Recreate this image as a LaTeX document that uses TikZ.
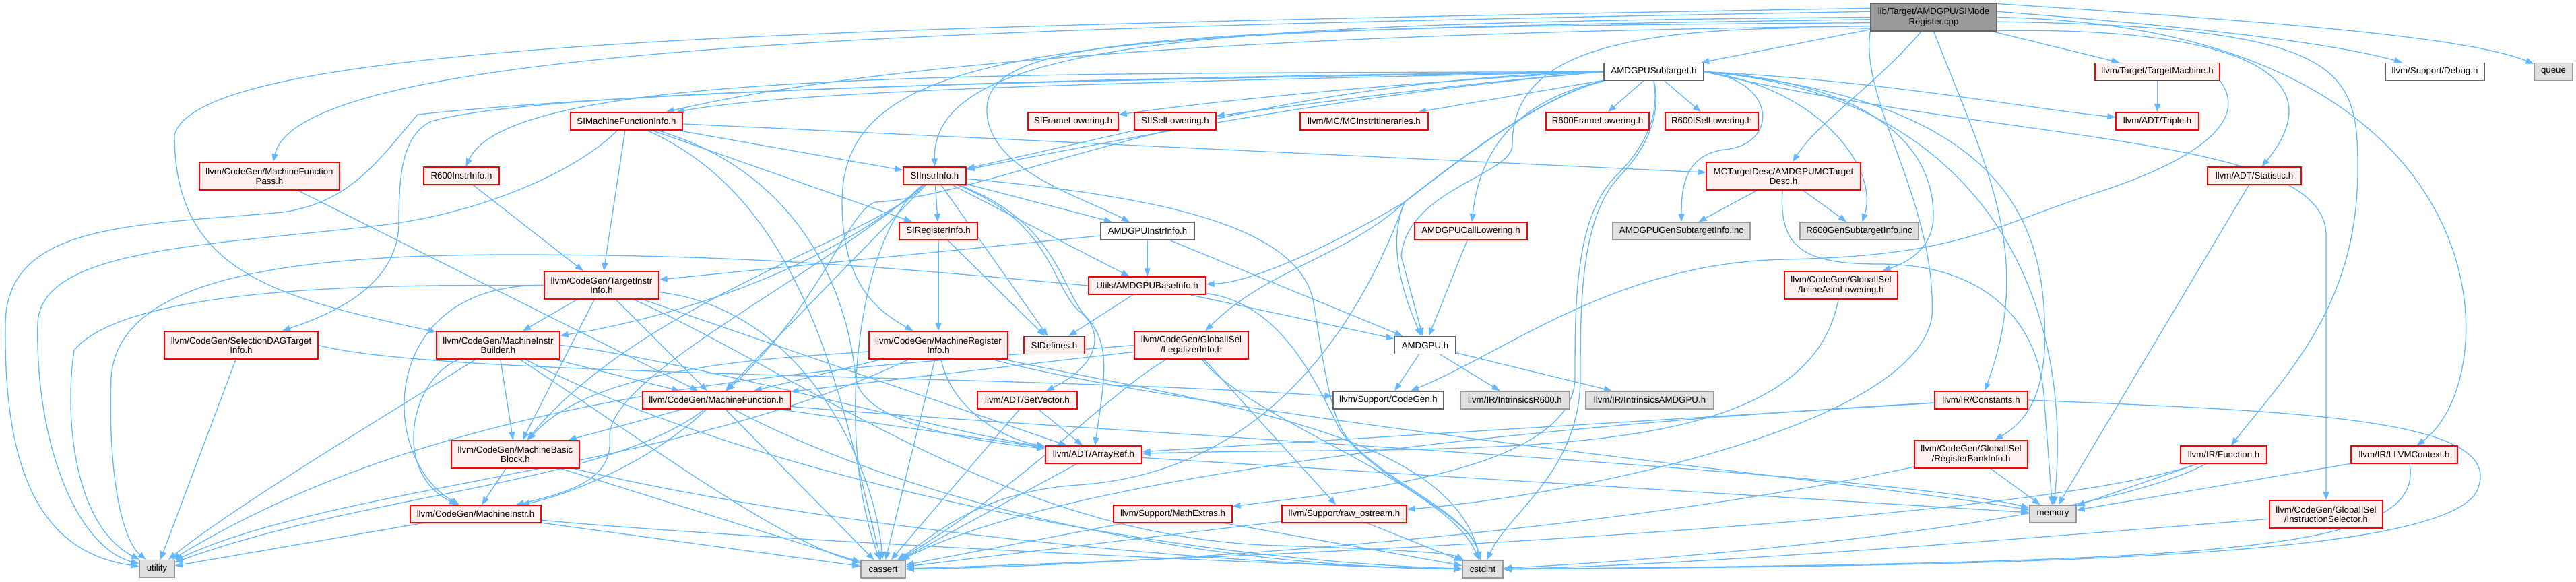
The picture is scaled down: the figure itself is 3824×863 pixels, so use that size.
\documentclass[tikz,border=0pt]{standalone}
\usepackage{tikz}
\usepackage{fontspec}
\setmainfont{Liberation Sans}
\usetikzlibrary{arrows.meta}
\pgfdeclarelayer{bg}
\pgfsetlayers{bg,main}
\definecolor{ec}{HTML}{63B8FF}
\definecolor{redfill}{HTML}{FFF0F0}
\definecolor{grayfill}{HTML}{E0E0E0}
\definecolor{graydraw}{HTML}{999999}
\definecolor{darkdraw}{HTML}{666666}
\newcommand\mynode[7]{\node[#1, minimum width=#5pt, minimum height=#6pt] (#2) at (#3,#4) {#7};}
\begin{document}
\begin{tikzpicture}[x=1pt,y=-1pt,
  every node/.style={font=\fontsize{13.3pt}{14.5pt}\selectfont, inner sep=0pt, align=center},
  rn/.style={draw=red, fill=redfill, line width=1.4pt},
  gn/.style={draw=graydraw, fill=grayfill, line width=1.4pt},
  wn/.style={draw=darkdraw, fill=white, line width=1.4pt},
  rootn/.style={draw=darkdraw, fill=graydraw, line width=1.4pt},
  conn/.style={draw=ec, line width=1.3pt, -{Triangle[length=12pt,width=9pt]}}]
\useasboundingbox (0,0) rectangle (3824,863);
\mynode{rootn}{root}{2870.5}{25.5}{187}{41}{lib/Target/AMDGPU/SIMode\\Register.cpp}
\mynode{wn}{sub}{2455}{106.5}{148}{26}{AMDGPUSubtarget.h}
\mynode{rn}{tm}{3202.5}{106.5}{185}{26}{llvm/Target/TargetMachine.h}
\mynode{wn}{dbg}{3614.5}{106.5}{147}{26}{llvm/Support/Debug.h}
\mynode{gn}{queue}{3790.5}{106.5}{57}{26}{queue}
\mynode{rn}{simfi}{930}{180}{166}{26}{SIMachineFunctionInfo.h}
\mynode{rn}{siframe}{1593}{180}{134}{26}{SIFrameLowering.h}
\mynode{rn}{siisel}{1744.5}{180}{121}{26}{SIISelLowering.h}
\mynode{rn}{mcii}{2025}{180}{190}{26}{llvm/MC/MCInstrItineraries.h}
\mynode{rn}{r600frame}{2371.5}{180}{153}{26}{R600FrameLowering.h}
\mynode{rn}{r600isel}{2541}{180}{138}{26}{R600ISelLowering.h}
\mynode{rn}{triple}{3202.5}{180}{123}{26}{llvm/ADT/Triple.h}
\mynode{rn}{mfp}{400}{261.5}{208}{41}{llvm/CodeGen/MachineFunction\\Pass.h}
\mynode{rn}{r600ii}{685}{261}{112}{26}{R600InstrInfo.h}
\mynode{rn}{siii}{1387.5}{261}{93}{26}{SIInstrInfo.h}
\mynode{rn}{mctd}{2647.5}{261.5}{229}{41}{MCTargetDesc/AMDGPUMCTarget\\Desc.h}
\mynode{rn}{stat}{3346.5}{261}{139}{26}{llvm/ADT/Statistic.h}
\mynode{rn}{siri}{1393}{343}{116}{26}{SIRegisterInfo.h}
\mynode{wn}{amdgpuii}{1703.5}{343}{139}{26}{AMDGPUInstrInfo.h}
\mynode{rn}{calllow}{2183.5}{343}{167}{26}{AMDGPUCallLowering.h}
\mynode{gn}{gensub}{2496}{343}{204}{26}{AMDGPUGenSubtargetInfo.inc}
\mynode{gn}{r600gensub}{2760}{343}{176}{26}{R600GenSubtargetInfo.inc}
\mynode{rn}{tii}{893}{423.5}{170}{41}{llvm/CodeGen/TargetInstr\\Info.h}
\mynode{rn}{baseinfo}{1703}{424}{174}{26}{Utils/AMDGPUBaseInfo.h}
\mynode{rn}{inlineasm}{2733}{423.5}{168}{41}{llvm/CodeGen/GlobalISel\\/InlineAsmLowering.h}
\mynode{rn}{sdag}{358}{512.5}{228}{41}{llvm/CodeGen/SelectionDAGTarget\\Info.h}
\mynode{rn}{mib}{739.5}{512.5}{183}{41}{llvm/CodeGen/MachineInstr\\Builder.h}
\mynode{rn}{mri}{1393}{512.5}{206}{41}{llvm/CodeGen/MachineRegister\\Info.h}
\mynode{rn}{sidef}{1565}{512.5}{90}{26}{SIDefines.h}
\mynode{rn}{legal}{1768.5}{512.5}{169}{41}{llvm/CodeGen/GlobalISel\\/LegalizerInfo.h}
\mynode{wn}{amdgpu}{2115.5}{512.5}{91}{26}{AMDGPU.h}
\mynode{rn}{mf}{1063.5}{594}{219}{26}{llvm/CodeGen/MachineFunction.h}
\mynode{rn}{setvec}{1525}{594}{148}{26}{llvm/ADT/SetVector.h}
\mynode{wn}{cg}{2061}{594}{164}{26}{llvm/Support/CodeGen.h}
\mynode{gn}{ir600}{2249}{594}{162}{26}{llvm/IR/IntrinsicsR600.h}
\mynode{gn}{iamd}{2449}{594}{190}{26}{llvm/IR/IntrinsicsAMDGPU.h}
\mynode{rn}{consts}{2941}{594}{138}{26}{llvm/IR/Constants.h}
\mynode{rn}{mbb}{765}{674.5}{190}{41}{llvm/CodeGen/MachineBasic\\Block.h}
\mynode{rn}{aref}{1623.5}{675}{143}{26}{llvm/ADT/ArrayRef.h}
\mynode{rn}{func}{3301}{675}{128}{26}{llvm/IR/Function.h}
\mynode{rn}{ctx}{3569}{675}{158}{26}{llvm/IR/LLVMContext.h}
\mynode{rn}{rbi}{2926}{674.5}{168}{41}{llvm/CodeGen/GlobalISel\\/RegisterBankInfo.h}
\mynode{rn}{mi}{706}{763}{194}{26}{llvm/CodeGen/MachineInstr.h}
\mynode{rn}{mathx}{1741}{763}{176}{26}{llvm/Support/MathExtras.h}
\mynode{rn}{rawos}{1995.5}{763}{185}{26}{llvm/Support/raw\_ostream.h}
\mynode{gn}{memory}{3047.5}{763}{69}{26}{memory}
\mynode{rn}{isel}{3453}{763.5}{168}{41}{llvm/CodeGen/GlobalISel\\/InstructionSelector.h}
\mynode{gn}{utility}{233}{844.5}{52}{26}{utility}
\mynode{gn}{cassert}{1311}{845}{66}{26}{cassert}
\mynode{gn}{cstdint}{2201}{845}{60}{26}{cstdint}
\begin{pgfonlayer}{bg}
\fill[white] (0,0) rectangle (3824,863);
% ---- root
\draw[conn] (root) -- (sub);
\draw[conn] (root) -- (tm);
\draw[conn] (root.5) .. controls (3200,35) and (3450,60) .. (dbg);
\draw[conn] (root.12) .. controls (3300,28) and (3650,50) .. (queue);
\draw[conn] (root.-12) .. controls (3320,40) and (3470,110) .. (stat);
\draw[conn] (root.-4) .. controls (3480,40) and (3500,100) .. (3500,250) .. controls (3500,450) and (3400,550) .. (func);
\draw[conn] (root.0) .. controls (3725,40) and (3725,560) .. (ctx);
\draw[conn] (root.190) .. controls (2400,35) and (2245,80) .. (2245,215) .. controls (2245,260) and (2090,280) .. (2080,380) -- (amdgpu);
\draw[conn] (root.185) .. controls (1700,40) and (1470,60) .. (1465,160) .. controls (1462,250) and (1600,290) .. (amdgpuii);
\draw[conn] (root.180) .. controls (1800,33) and (1385,60) .. (siii);
\draw[conn] (root.188) .. controls (2200,45) and (1400,70) .. (simfi);
\draw[conn] (root) .. controls (2780,130) and (2700,180) .. (mctd);
\draw[conn] (root.175) .. controls (1500,40) and (450,60) .. (mfp);
\draw[conn] (root.172) .. controls (1200,40) and (300,60) .. (259,200) .. controls (259,400) and (400,440) .. (mib);
\draw[conn] (root.182) .. controls (1600,45) and (1250,60) .. (1250,300) .. controls (1250,420) and (1300,460) .. (mri);
\draw[conn] (root.south) .. controls (2950,250) and (3020,380) .. (consts);
\draw[conn] (root.south west) .. controls (2760,150) and (2875,300) .. (2868,470) .. controls (2840,640) and (2300,740) .. (rawos);
% ---- sub
\draw[conn] (sub.south west) .. controls (2300,140) and (2200,210) .. (2085,300) .. controls (2060,360) and (2080,430) .. (amdgpu);
\draw[conn] (sub.south west) .. controls (2290,140) and (2200,190) .. (calllow);
\draw[conn] (sub) -- (r600frame);
\draw[conn] (sub) -- (r600isel);
\draw[conn] (sub.west) .. controls (1500,110) and (760,100) .. (r600ii);
\draw[conn] (sub.west) .. controls (2100,120) and (1800,150) .. (siframe);
\draw[conn] (sub.west) .. controls (2150,125) and (1900,160) .. (siisel);
\draw[conn] (sub.west) .. controls (2000,140) and (1700,200) .. (siii);
\draw[conn] (sub.west) .. controls (1800,120) and (1200,130) .. (simfi);
\draw[conn] (sub.south west) .. controls (2300,140) and (2200,210) .. (2085,300) .. controls (1950,380) and (1850,420) .. (baseinfo);
\draw[conn] (sub.east) .. controls (2800,120) and (3000,160) .. (triple);
\draw[conn] (sub.east) .. controls (2750,120) and (2870,200) .. (2870,320) .. controls (2870,370) and (2830,390) .. (inlineasm);
\draw[conn] (sub.east) .. controls (3000,215) and (3453,200) .. (3453,350) -- (isel);
\draw[conn] (sub.south west) .. controls (2300,140) and (2200,210) .. (2085,300) .. controls (2000,380) and (1880,400) .. (legal);
\draw[conn] (sub.east) .. controls (3000,150) and (3040,350) .. (3035,520) .. controls (3030,600) and (3000,630) .. (rbi);
\draw[conn] (sub.west) .. controls (1800,120) and (1480,290) .. (1300,300) .. controls (1260,310) and (1220,450) .. (mf);
\draw[conn] (sub.west) .. controls (1500,120) and (800,135) .. (640,180) .. controls (600,200) and (592,250) .. (592,330) .. controls (592,430) and (480,470) .. (sdag);
\draw[conn] (sub) -- (mcii);
\draw[conn] (sub.south) .. controls (2460,150) and (2460,200) .. (2400,260) .. controls (2338,320) and (2338,450) .. (2338,560) .. controls (2338,700) and (2000,730) .. (mathx);
\draw[conn] (sub.south west) .. controls (2300,140) and (2200,210) .. (2085,300) .. controls (2030,450) and (1900,700) .. (1600,720) .. controls (1450,730) and (1380,800) .. (cassert);
\draw[conn] (sub.south) .. controls (2462,150) and (2462,200) .. (2406,260) .. controls (2346,320) and (2346,450) .. (2346,560) .. controls (2346,700) and (2240,760) .. (cstdint);
\draw[conn] (sub.east) .. controls (2950,140) and (3080,450) .. (memory);
\draw[conn] (sub.west) .. controls (1500,115) and (900,140) .. (620,170) .. controls (560,240) and (520,300) .. (420,315) .. controls (200,335) and (10,330) .. (8,480) .. controls (5,700) and (60,820) .. (utility);
\draw[conn] (sub.east) .. controls (2640,120) and (2640,215) .. (2560,222) .. controls (2500,230) and (2496,280) .. (gensub);
\draw[conn] (sub.east) .. controls (2700,130) and (2790,250) .. (r600gensub);
% ---- simfi
\draw[conn] (simfi) -- (tii);
\draw[conn] (simfi) -- (siii);
\draw[conn] (simfi) -- (siri);
\draw[conn] (simfi) -- (mctd);
\draw[conn] (simfi) .. controls (1200,260) and (1260,450) .. (1270,560) .. controls (1280,640) and (1500,660) .. (aref);
\draw[conn] (simfi) .. controls (1200,300) and (1250,600) .. (cassert);
\draw[conn] (simfi) .. controls (850,260) and (700,320) .. (560,335) .. controls (300,365) and (60,370) .. (56,480) .. controls (52,650) and (110,810) .. (utility);
% ---- siii
\draw[conn] (siii) -- (amdgpuii);
\draw[conn] (siii) -- (sidef);
\draw[conn] (siii) -- (siri);
\draw[conn] (siii) -- (baseinfo);
\draw[conn] (siii) .. controls (1570,330) and (1575,430) .. (1612,470) .. controls (1650,510) and (1640,560) .. (aref);
\draw[conn] (siii) .. controls (1560,330) and (1560,420) .. (1600,460) .. controls (1640,490) and (1635,540) .. (setvec);
\draw[conn] (siii) .. controls (1300,350) and (950,450) .. (mbb);
\draw[conn] (siii) -- (mf);
\draw[conn] (siii) .. controls (1200,420) and (900,560) .. (905,650) .. controls (910,710) and (850,730) .. (mi);
\draw[conn] (siii) .. controls (1200,420) and (950,480) .. (mib);
\draw[conn] (siii) .. controls (1270,350) and (1240,650) .. (cassert);
\draw[conn] (siii) .. controls (1700,290) and (1930,330) .. (1950,450) .. controls (1965,540) and (1975,620) .. (2000,650) .. controls (2060,720) and (2180,760) .. (cstdint);
% ---- siri, amdgpuii, baseinfo, amdgpu
\draw[conn] (siri) -- (mri);
\draw[conn] (siri) -- (sidef);
\draw[conn] (amdgpuii) -- (baseinfo);
\draw[conn] (amdgpuii) -- (tii);
\draw[conn] (amdgpuii) -- (amdgpu);
\draw[conn] (baseinfo) -- (amdgpu);
\draw[conn] (baseinfo) -- (sidef);
\draw[conn] (baseinfo) .. controls (1900,450) and (1950,560) .. (1990,640) .. controls (2050,720) and (2180,760) .. (cstdint);
\draw[conn] (baseinfo.west) .. controls (1300,395) and (1100,378) .. (760,378) .. controls (400,378) and (175,420) .. (165,560) .. controls (160,700) and (180,800) .. (utility);
\draw[conn] (amdgpu) -- (cg);
\draw[conn] (amdgpu) -- (ir600);
\draw[conn] (amdgpu) -- (iamd);
% ---- tm, mfp, r600ii
\draw[conn] (tm) -- (triple);
\draw[conn] (tm.south east) .. controls (3340,180) and (3260,240) .. (3100,290) .. controls (2950,340) and (2900,380) .. (2650,385) .. controls (2400,390) and (2240,520) .. (cg);
\draw[conn] (mfp) -- (mf);
\draw[conn] (r600ii) -- (tii);
% ---- tii
\draw[conn] (tii) -- (mib);
\draw[conn] (tii) -- (mbb);
\draw[conn] (tii) -- (mf);
\draw[conn] (tii.west) .. controls (560,420) and (560,680) .. (mi);
\draw[conn] (tii) -- (aref);
\draw[conn] (tii) .. controls (1200,460) and (1300,700) .. (cassert);
\draw[conn] (tii) .. controls (1200,560) and (1500,800) .. (1900,810) .. controls (2050,815) and (2150,820) .. (cstdint);
\draw[conn] (tii.west) .. controls (700,425) and (200,410) .. (110,520) .. controls (95,620) and (110,780) .. (utility);
% ---- mib
\draw[conn] (mib.east) .. controls (1000,530) and (1400,640) .. (aref);
\draw[conn] (mib) -- (mbb);
\draw[conn] (mib) -- (mf);
\draw[conn] (mib) .. controls (610,560) and (580,700) .. (mi);
\draw[conn] (mib) .. controls (950,650) and (1150,800) .. (cassert);
\draw[conn] (mib) .. controls (1100,700) and (1700,830) .. (cstdint);
\draw[conn] (mib) .. controls (600,600) and (350,750) .. (utility);
% ---- mf
\draw[conn] (mf) -- (aref);
\draw[conn] (mf) -- (mbb);
\draw[conn] (mf) .. controls (950,700) and (820,740) .. (mi);
\draw[conn] (mf) -- (cassert);
\draw[conn] (mf) .. controls (1300,720) and (1700,840) .. (cstdint);
\draw[conn] (mf) .. controls (1600,640) and (2800,700) .. (memory);
\draw[conn] (mf) .. controls (900,720) and (550,730) .. (utility);
% ---- mbb, mi
\draw[conn] (mbb) -- (mi);
\draw[conn] (mbb) -- (cassert);
\draw[conn] (mbb) .. controls (1200,780) and (1800,840) .. (cstdint);
\draw[conn] (mi) -- (cassert);
\draw[conn] (mi) .. controls (1100,800) and (1900,840) .. (cstdint);
\draw[conn] (mi) -- (utility);
% ---- mri
\draw[conn] (mri) .. controls (1410,600) and (1480,650) .. (aref);
\draw[conn] (mri) .. controls (1200,530) and (890,535) .. (mbb);
\draw[conn] (mri) -- (mf);
\draw[conn] (mri) -- (cassert);
\draw[conn] (mri) .. controls (1800,600) and (2150,640) .. (cstdint);
\draw[conn] (mri) .. controls (1800,620) and (2800,720) .. (memory);
\draw[conn] (mri) .. controls (1000,700) and (500,720) .. (utility);
% ---- legal
\draw[conn] (legal) -- (mf);
\draw[conn] (legal) -- (rawos);
\draw[conn] (legal) .. controls (1650,580) and (1520,720) .. (cassert);
\draw[conn] (legal) .. controls (1850,620) and (2150,720) .. (cstdint);
\draw[conn] (legal.west) .. controls (1300,545) and (700,560) .. (utility);
% ---- setvec, aref
\draw[conn] (setvec) -- (aref);
\draw[conn] (setvec) -- (cassert);
\draw[conn] (aref) -- (cassert);
\draw[conn] (aref) -- (memory);
% ---- consts, rbi, func, ctx, isel
\draw[conn] (consts) -- (aref);
\draw[conn] (consts) .. controls (2300,630) and (1600,700) .. (cassert);
\draw[conn] (consts.east) .. controls (3400,610) and (3710,620) .. (3680,720) .. controls (3660,830) and (3000,840) .. (cstdint);
\draw[conn] (rbi) .. controls (2400,790) and (1700,840) .. (cassert);
\draw[conn] (rbi) -- (memory);
\draw[conn] (func) .. controls (3000,780) and (1800,830) .. (cassert);
\draw[conn] (func) .. controls (3100,780) and (2500,830) .. (cstdint);
\draw[conn] (func) -- (memory);
\draw[conn] (ctx.-60) .. controls (3600,820) and (3300,835) .. (cstdint);
\draw[conn] (ctx) -- (memory);
\draw[conn] (isel) .. controls (3000,800) and (2500,840) .. (cstdint);
% ---- others
\draw[conn] (inlineasm) .. controls (2680,700) and (2200,660) .. (aref);
\draw[conn] (sdag.east) .. controls (650,560) and (1500,555) .. (cg);
\draw[conn] (sdag) -- (utility);
\draw[conn] (mathx) -- (cassert);
\draw[conn] (mathx) -- (cstdint);
\draw[conn] (rawos) -- (cassert);
\draw[conn] (rawos) -- (cstdint);
\draw[conn] (stat) -- (memory);
\draw[conn] (siisel) -- (siii);
\draw[conn] (calllow) -- (amdgpu);
\draw[conn] (mctd) -- (gensub);
\draw[conn] (mctd) -- (r600gensub);
\draw[conn] (mctd) .. controls (2640,370) and (2680,392) .. (2790,392) .. controls (2950,392) and (3030,480) .. (3035,600) -- (memory);
\end{pgfonlayer}
\end{tikzpicture}
\end{document}
